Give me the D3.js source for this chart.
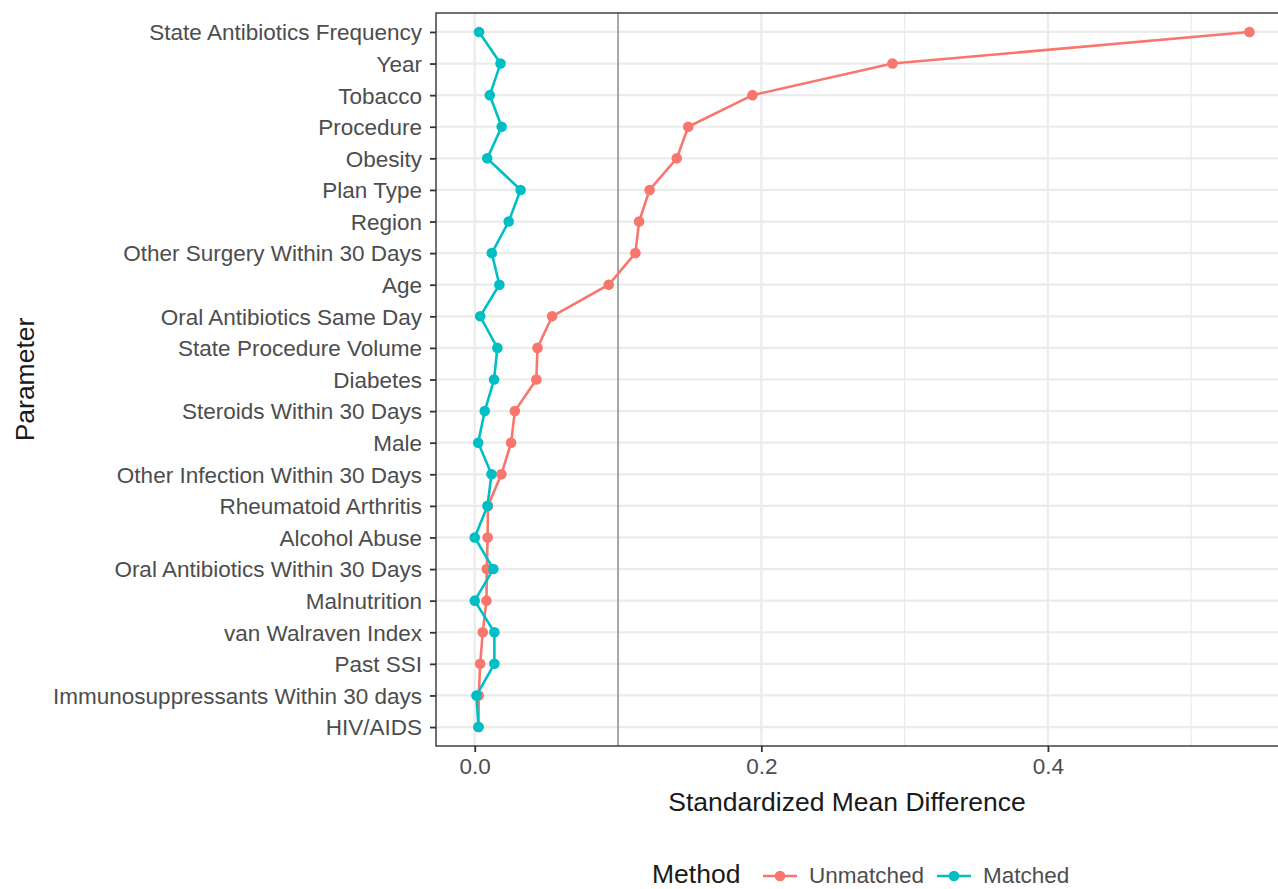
<!DOCTYPE html>
<html>
<head>
<meta charset="utf-8">
<script src="https://cdn.jsdelivr.net/npm/d3@7"></script>
<style>
  body { margin: 0; background: #fff; }
  text { font-family: "Liberation Sans", Arial, sans-serif; }
</style>
</head>
<body>
<div id="chart"></div>
<script>
// data ------------------------------------------------------------------
const parameters = [
  "State Antibiotics Frequency", "Year", "Tobacco", "Procedure", "Obesity",
  "Plan Type", "Region", "Other Surgery Within 30 Days", "Age",
  "Oral Antibiotics Same Day", "State Procedure Volume", "Diabetes",
  "Steroids Within 30 Days", "Male", "Other Infection Within 30 Days",
  "Rheumatoid Arthritis", "Alcohol Abuse", "Oral Antibiotics Within 30 Days",
  "Malnutrition", "van Walraven Index", "Past SSI",
  "Immunosuppressants Within 30 days", "HIV/AIDS"
]
const unmatched = [
  0.5406, 0.2915, 0.1938, 0.149, 0.141, 0.122, 0.1147, 0.1121, 0.0935,
  0.054, 0.0438, 0.043, 0.028, 0.0254, 0.0186, 0.0092, 0.009, 0.0084,
  0.0082, 0.0056, 0.0038, 0.0028, 0.0026
]
const matched = [
  0.003, 0.018, 0.0105, 0.0188, 0.0087, 0.032, 0.0237, 0.0119, 0.0172,
  0.0038, 0.0158, 0.0135, 0.007, 0.0024, 0.0117, 0.0089, 0.0, 0.013,
  0.0, 0.0137, 0.0137, 0.0012, 0.0026
]
const methods = ["Unmatched", "Matched"]
const xTicks = [0, 0.2, 0.4]
const xMinor = [0.1, 0.3, 0.5]
const threshold = 0.1

// layout ------------------------------------------------------------------
const width = 1278,
      height = 889,
      panelLeft = 436,
      panelTop = 13,
      panelBottom = 746,
      colors = { Unmatched: "#F8766D", Matched: "#00BFC4" },
      textColor = "#4d4d4d",
      gridColor = "#ebebeb",
      tickFont = "22.5px",
      titleFont = "26.5px"

const svg = d3.select("#chart").append("svg")
  .attr("width", width)
  .attr("height", height)

// ggplot-like 5% expansion
const maxVal = d3.max(unmatched.concat(matched))
const pad = maxVal * 0.05
const x = d3.scaleLinear()
  .domain([0 - pad, maxVal + pad])
  .range([panelLeft, panelLeft + (maxVal + 2 * pad) * 1433])

const y = d3.scalePoint()
  .domain(parameters)
  .range([panelTop, panelBottom])
  .padding(0.6)

const panelRight = x.range()[1]

// grid ------------------------------------------------------------------
const grid = svg.append("g")
grid.selectAll("line.minor").data(xMinor).join("line")
  .attr("x1", d => x(d)).attr("x2", d => x(d))
  .attr("y1", panelTop).attr("y2", panelBottom)
  .attr("stroke", gridColor).attr("stroke-width", 1.2)
grid.selectAll("line.majx").data(xTicks).join("line")
  .attr("class", "majx")
  .attr("x1", d => x(d)).attr("x2", d => x(d))
  .attr("y1", panelTop).attr("y2", panelBottom)
  .attr("stroke", gridColor).attr("stroke-width", 2.2)
grid.selectAll("line.majy").data(parameters).join("line")
  .attr("class", "majy")
  .attr("x1", panelLeft).attr("x2", panelRight)
  .attr("y1", d => y(d)).attr("y2", d => y(d))
  .attr("stroke", gridColor).attr("stroke-width", 2.2)

// threshold line
svg.append("line")
  .attr("x1", x(threshold)).attr("x2", x(threshold))
  .attr("y1", panelTop).attr("y2", panelBottom)
  .attr("stroke", "#808080").attr("stroke-width", 1.3)

// series ------------------------------------------------------------------
const series = [
  { name: "Unmatched", values: unmatched },
  { name: "Matched", values: matched }
]

const line = d3.line()
  .x(d => x(d.v))
  .y(d => y(d.p))

series.forEach(s => {
  const pts = parameters.map((p, i) => ({ p: p, v: s.values[i] }))
  const g = svg.append("g")
  g.append("path")
    .datum(pts)
    .attr("d", line)
    .attr("fill", "none")
    .attr("stroke", colors[s.name])
    .attr("stroke-width", 2.6)
  g.selectAll("circle").data(pts).join("circle")
    .attr("cx", d => x(d.v))
    .attr("cy", d => y(d.p))
    .attr("r", 5.3)
    .attr("fill", colors[s.name])
})

// panel border
svg.append("rect")
  .attr("x", panelLeft).attr("y", panelTop)
  .attr("width", panelRight - panelLeft)
  .attr("height", panelBottom - panelTop)
  .attr("fill", "none")
  .attr("stroke", "#333333")
  .attr("stroke-width", 1.4)

// axes ------------------------------------------------------------------
const yAxis = svg.append("g")
  .attr("transform", `translate(${panelLeft},0)`)
  .call(d3.axisLeft(y).tickSize(6).tickPadding(8))
yAxis.select(".domain").remove()
yAxis.selectAll(".tick line").attr("stroke", "#333333").attr("stroke-width", 1.8)
yAxis.selectAll(".tick text")
  .attr("fill", textColor)
  .style("font-size", tickFont)
  .attr("dy", "0.35em")

const xAxis = svg.append("g")
  .attr("transform", `translate(0,${panelBottom})`)
  .call(d3.axisBottom(x).tickValues(xTicks).tickFormat(d3.format(".1f")).tickSize(6).tickPadding(6))
xAxis.select(".domain").remove()
xAxis.selectAll(".tick line").attr("stroke", "#333333").attr("stroke-width", 1.8)
xAxis.selectAll(".tick text")
  .attr("fill", textColor)
  .style("font-size", tickFont)

// titles
svg.append("text")
  .attr("x", 847)
  .attr("y", 811)
  .attr("text-anchor", "middle")
  .style("font-size", titleFont)
  .attr("fill", "#1a1a1a")
  .text("Standardized Mean Difference")

svg.append("text")
  .attr("transform", `translate(34,${(panelTop + panelBottom) / 2}) rotate(-90)`)
  .attr("text-anchor", "middle")
  .style("font-size", titleFont)
  .attr("fill", "#1a1a1a")
  .text("Parameter")

// legend (kept just inside the bottom edge) ----------------------------------
const legend = svg.append("g").attr("transform", "translate(652,876)")
legend.append("text")
  .attr("x", 0).attr("y", 7)
  .style("font-size", titleFont)
  .attr("fill", "#1a1a1a")
  .text("Method")

const keyX = { Unmatched: 111, Matched: 285 }
methods.forEach(m => {
  const k = legend.append("g").attr("transform", `translate(${keyX[m]},0)`)
  k.append("line")
    .attr("x1", 0).attr("x2", 34)
    .attr("stroke", colors[m]).attr("stroke-width", 2.6)
  k.append("circle")
    .attr("cx", 17).attr("r", 5.3)
    .attr("fill", colors[m])
  k.append("text")
    .attr("x", 46).attr("y", 7)
    .style("font-size", tickFont)
    .attr("fill", textColor)
    .text(m)
})
</script>
</body>
</html>
